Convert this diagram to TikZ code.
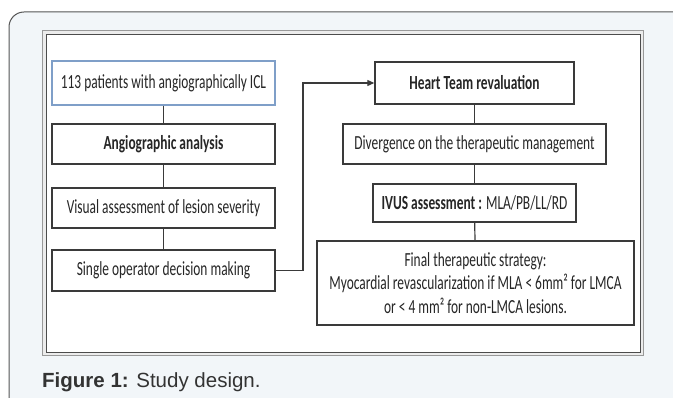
\documentclass[tikz,border=0pt]{standalone}
\usepackage{fontspec}
\setmainfont{Liberation Sans}
\newfontfamily\boxfont[FakeStretch=0.67]{Carlito}
\usetikzlibrary{arrows.meta}
\definecolor{cardfill}{HTML}{F2F6F9}
\definecolor{cardline}{HTML}{555555}
\definecolor{boxline}{HTML}{3A3A3A}
\definecolor{blueline}{HTML}{7F9FC8}
\definecolor{captext}{HTML}{333333}
\tikzset{
  stepbox/.style={draw=boxline, line width=1.4pt, fill=white, inner sep=0pt, align=center,
    font=\boxfont\fontsize{20}{23.5}\selectfont, text=black!85},
  link/.style={draw=boxline, line width=1.2pt},
}
\begin{document}
\begin{tikzpicture}[x=1pt,y=-1pt]
\useasboundingbox (0,0) rectangle (673,398);
% card
\draw[cardline, fill=cardfill, line width=1pt, rounded corners=15pt] (9,12) rectangle (690,415);
% image frame
\draw[draw=gray!80, fill=gray!15, line width=1pt] (42,31) rectangle (643,356);
\draw[draw=black!70, fill=white, line width=1pt] (46,35) rectangle (640,353);
% left column
\node[stepbox, draw=blueline, minimum width=223pt, minimum height=44pt] (a) at (163.5,83) {113 patients with angiographically ICL};
\node[stepbox, minimum width=223pt, minimum height=40pt] (b) at (163.5,144) {\bfseries Angiographic analysis};
\node[stepbox, minimum width=223pt, minimum height=40pt] (c) at (163.5,208) {Visual assessment of lesion severity};
\node[stepbox, minimum width=223pt, minimum height=41pt] (d) at (163.5,270.5) {Single operator decision making};
% right column
\node[stepbox, minimum width=199pt, minimum height=42pt] (e) at (474.5,83) {\bfseries Heart Team revaluation};
\node[stepbox, minimum width=263pt, minimum height=40pt] (f) at (474.5,144) {Divergence on the therapeutic management};
\node[stepbox, minimum width=203pt, minimum height=38pt] (g) at (474.5,203) {\textbf{IVUS assessment :} MLA/PB/LL/RD};
\node[stepbox, minimum width=317pt, minimum height=84pt] (h) at (475.5,283) {Final therapeutic strategy:\\Myocardial revascularization if MLA < 6mm² for LMCA\\or < 4 mm² for non-LMCA lesions.};
% connectors
\draw[link] (a) -- (b);
\draw[link] (b) -- (c);
\draw[link] (c) -- (d);
\draw[link] (e) -- (f);
\draw[link] (f) -- (g);
\draw[link] (g) -- (h);
\coordinate (k1) at (303,270.5);
\coordinate (k2) at (303,83);
\draw[link, -{Triangle[length=7pt,width=6pt]}] (d.east) -- (k1) -- (k2) -- (e.west);
% caption
\node[anchor=base west, inner sep=0pt, text=captext, font=\fontsize{20.5}{24}\selectfont] (cap) at (42,388) {\textbf{Figure 1:} Study design.};
\end{tikzpicture}
\end{document}
